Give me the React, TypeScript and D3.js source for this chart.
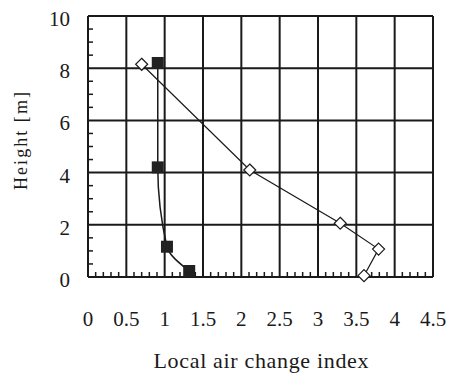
import React from "react";
import * as d3 from "d3";

const xTicks = [0, 0.5, 1, 1.5, 2, 2.5, 3, 3.5, 4, 4.5];
const xTickLabels = ["0", "0.5", "1", "1.5", "2", "2.5", "3", "3.5", "4", "4.5"];
const yTicks = [0, 2, 4, 6, 8, 10];
const yTickLabels = ["0", "2", "4", "6", "8", "10"];

const diamondX = [0.7, 2.11, 3.29, 3.79, 3.6];
const diamondY = [8.15, 4.1, 2.06, 1.07, 0.05];
const squareX = [1.32, 1.03, 0.91, 0.91];
const squareY = [0.23, 1.16, 4.2, 8.2];

const xTitle = "Local air change index";
const yTitle = "Height [m]";

export default function App() {
  const W = 450, H = 374;
  const x = d3.scaleLinear().domain([0, 4.5]).range([88, 433]);
  const y = d3.scaleLinear().domain([0, 10]).range([277, 16]);
  const font = "'Liberation Serif', serif";
  const ink = "#1a1a1a";

  const minorX = d3.range(1, 45).map((i) => i / 10).filter((v) => Math.abs(v * 2 - Math.round(v * 2)) > 1e-6);
  const minorY = d3.range(1, 20).map((i) => i / 2).filter((v) => v % 2 !== 0);

  const diamonds = diamondX.map((v, i) => [v, diamondY[i]] as [number, number]);
  const squares = squareX.map((v, i) => [v, squareY[i]] as [number, number]);

  const lineStraight = d3.line<[number, number]>().x((d) => x(d[0])).y((d) => y(d[1]));
  const lineSmooth = d3
    .line<[number, number]>()
    .x((d) => x(d[0]))
    .y((d) => y(d[1]))
    .curve(d3.curveMonotoneY);

  const txt = { fontFamily: font, fill: ink } as React.CSSProperties;

  return (
    <svg width={W} height={H} style={{ position: "absolute", left: 0, top: 0, background: "#fff" }}>
      <rect x={0} y={0} width={W} height={H} fill="#fff" />
      {xTicks.map((t) => (
        <line key={"gx" + t} x1={x(t)} x2={x(t)} y1={y(0)} y2={y(10)} stroke={ink} strokeWidth={2} />
      ))}
      {yTicks.map((t) => (
        <line key={"gy" + t} x1={x(0)} x2={x(4.5)} y1={y(t)} y2={y(t)} stroke={ink} strokeWidth={2} />
      ))}
      {minorX.map((t) => (
        <line key={"mx" + t} x1={x(t)} x2={x(t)} y1={y(0)} y2={y(0) - 5} stroke={ink} strokeWidth={1.5} />
      ))}
      {minorY.map((t) => (
        <line key={"my" + t} x1={x(0)} x2={x(0) + 5} y1={y(t)} y2={y(t)} stroke={ink} strokeWidth={1.5} />
      ))}
      <path d={lineStraight(diamonds) || ""} fill="none" stroke={ink} strokeWidth={1.2} />
      <path d={lineSmooth(squares) || ""} fill="none" stroke={ink} strokeWidth={1.5} />
      {squares.map((d, i) => (
        <rect key={"s" + i} x={x(d[0]) - 6} y={y(d[1]) - 6} width={12} height={12} fill="#222" />
      ))}
      {diamonds.map((d, i) => {
        const cx = x(d[0]), cy = y(d[1]), r = 6;
        return (
          <path
            key={"d" + i}
            d={`M${cx},${cy - r}L${cx + r},${cy}L${cx},${cy + r}L${cx - r},${cy}Z`}
            fill="#fff"
            stroke={ink}
            strokeWidth={1.2}
          />
        );
      })}
      {xTicks.map((t, i) => (
        <text key={"tx" + t} x={x(t)} y={326} textAnchor="middle" style={{ ...txt, fontSize: 21 }}>
          {xTickLabels[i]}
        </text>
      ))}
      {yTicks.map((t, i) => (
        <text key={"ty" + t} x={70} y={y(t) + 10} textAnchor="end" style={{ ...txt, fontSize: 21 }}>
          {yTickLabels[i]}
        </text>
      ))}
      <text
        x={261}
        y={368}
        textAnchor="middle"
        textLength={215}
        lengthAdjust="spacing"
        style={{ ...txt, fontSize: 22 }}
      >
        {xTitle}
      </text>
      <text
        transform={`translate(27,141) rotate(-90)`}
        textAnchor="middle"
        textLength={98}
        lengthAdjust="spacing"
        style={{ ...txt, fontSize: 18 }}
      >
        {yTitle}
      </text>
    </svg>
  );
}
